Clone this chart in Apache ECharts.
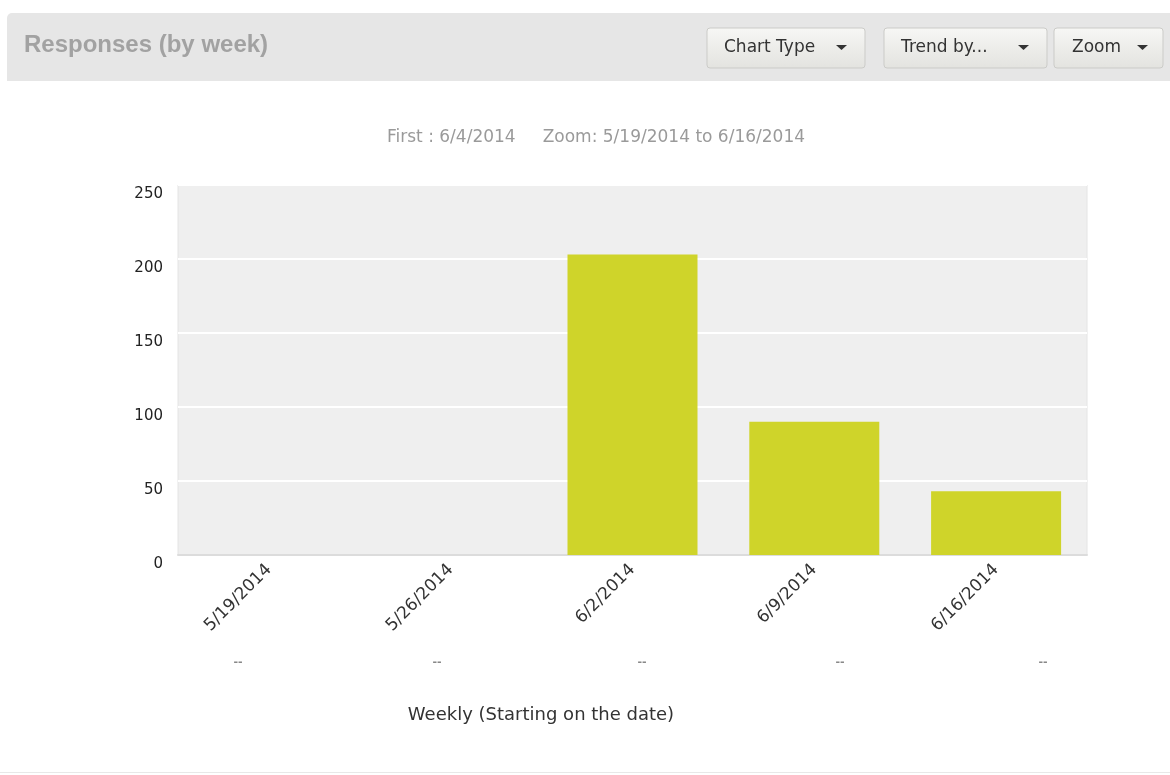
<!DOCTYPE html>
<html>
<head>
<meta charset="utf-8">
<script src="https://cdn.jsdelivr.net/npm/echarts@6/dist/echarts.min.js"></script>
<style>
  html, body { margin: 0; padding: 0; background: #fff; }
  #chart { width: 1170px; height: 775px; }
</style>
</head>
<body>
<div id="chart"></div>
<script>
// weekly responses
var weeks = ['5/19/2014', '5/26/2014', '6/2/2014', '6/9/2014', '6/16/2014'];
var responses = [0, 0, 203, 90, 43];
var yTicks = [0, 50, 100, 150, 200, 250];

var myChart = echarts.init(document.getElementById('chart'));

// header button helper (chart toolbar look)
function button(x, y, w, h, label, textX, arrowX) {
  return [
    {
      type: 'rect',
      shape: { x: x, y: y, width: w, height: h, r: 3 },
      style: {
        fill: new echarts.graphic.LinearGradient(0, 0, 0, 1, [
          { offset: 0, color: '#f7f7f5' },
          { offset: 1, color: '#e3e3df' }
        ]),
        stroke: '#cbcbc8',
        lineWidth: 1
      }
    },
    {
      type: 'text',
      x: textX, y: y + h / 2,
      style: {
        text: label, fill: '#333', font: '17px "DejaVu Sans"',
        verticalAlign: 'middle', align: 'left'
      }
    },
    {
      type: 'polygon',
      shape: { points: [[arrowX, y + 17], [arrowX + 11, y + 17], [arrowX + 5.5, y + 22]] },
      style: { fill: '#333' }
    }
  ];
}

var graphics = [
  {
    type: 'rect',
    shape: { x: 7, y: 13, width: 1170, height: 68, r: [5, 0, 0, 0] },
    style: { fill: '#e6e6e6' }
  },
  {
    type: 'text',
    x: 24, y: 45,
    style: {
      text: 'Responses (by week)', fill: '#a2a2a2',
      font: 'bold 24px "Liberation Sans"', verticalAlign: 'middle'
    }
  },
  {
    type: 'text',
    x: 596, y: 138,
    style: {
      text: 'First : 6/4/2014     Zoom: 5/19/2014 to 6/16/2014', fill: '#9a9a9a',
      font: '17px "DejaVu Sans"', align: 'center', verticalAlign: 'middle'
    }
  },
  {
    type: 'text',
    x: 541, y: 715,
    style: {
      text: 'Weekly (Starting on the date)', fill: '#333',
      font: '18px "DejaVu Sans"', align: 'center', verticalAlign: 'middle'
    }
  },
  {
    type: 'rect',
    shape: { x: 0, y: 772, width: 1170, height: 1 },
    style: { fill: '#e8e8e8' }
  }
];
graphics = graphics
  .concat(button(707, 28, 158, 40, 'Chart Type', 724, 836))
  .concat(button(884, 28, 163, 40, 'Trend by...', 901, 1018))
  .concat(button(1054, 28, 109, 40, 'Zoom', 1072, 1137));

// faint marks under the labels
[238, 437, 642, 840, 1043].forEach(function (x) {
  graphics.push({
    type: 'text', x: x, y: 662,
    style: { text: '--', fill: '#888', font: 'bold 11px "DejaVu Sans"', align: 'center', verticalAlign: 'middle' }
  });
});

var option = {
  animation: false,
  backgroundColor: '#fff',
  grid: {
    left: 178, right: 83, top: 185, bottom: 220,
    show: true,
    backgroundColor: '#efefef',
    borderColor: '#e4e4e4',
    borderWidth: 1
  },
  xAxis: {
    type: 'category',
    data: weeks,
    axisTick: { show: false },
    axisLine: { lineStyle: { color: '#dcdcdc', width: 2 } },
    axisLabel: {
      rotate: 45,
      margin: 12,
      color: '#333',
      fontFamily: 'DejaVu Sans',
      fontSize: 17
    }
  },
  yAxis: {
    type: 'value',
    min: yTicks[0],
    max: yTicks[yTicks.length - 1],
    interval: 50,
    axisLine: { show: false },
    axisTick: { show: false },
    splitLine: { lineStyle: { color: '#ffffff', width: 2 } },
    axisLabel: {
      margin: 15,
      color: '#222',
      fontFamily: 'DejaVu Sans',
      fontSize: 15,
      verticalAlign: 'top',
      padding: [2, 0, 0, 0]
    }
  },
  series: [{
    name: 'Responses',
    type: 'bar',
    data: responses,
    barWidth: 130,
    itemStyle: { color: '#cfd42a' }
  }],
  graphic: graphics
};

myChart.setOption(option);
</script>
</body>
</html>
